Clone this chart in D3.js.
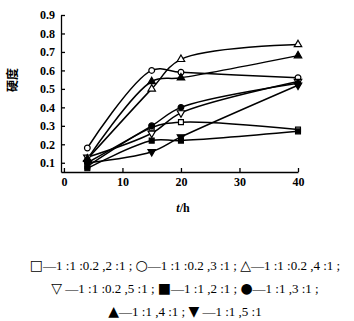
<!DOCTYPE html>
<html>
<head>
<meta charset="utf-8">
<script src="https://cdn.jsdelivr.net/npm/d3@7"></script>
<style>
  body { margin: 0; background: #fff; }
  svg { display: block; }
  .tick text { font-family: "Liberation Serif", serif; font-weight: bold; font-size: 12px; fill: #000; }
  .tick line, .domain { stroke: #000; stroke-width: 1.3; }
  .legend { font-family: "Liberation Serif", serif; font-size: 13px; fill: #000; }
  .sym { font-family: "DejaVu Sans", sans-serif; font-size: 14px; }
</style>
</head>
<body>
<svg width="354" height="321"></svg>
<script>
// sampling times (h)
const times = [4, 15, 20, 40];

// hardness values per formulation
const sqOpen   = [0.08, 0.29, 0.32, 0.28]; // □ 1:1:0.2,2:1
const ciOpen   = [0.18, 0.60, 0.59, 0.56]; // ○ 1:1:0.2,3:1
const trOpen   = [0.12, 0.50, 0.66, 0.74]; // △ 1:1:0.2,4:1
const itOpen   = [0.13, 0.26, 0.37, 0.54]; // ▽ 1:1:0.2,5:1
const sqFill   = [0.07, 0.22, 0.22, 0.27]; // ■ 1:1,2:1
const ciFill   = [0.10, 0.30, 0.40, 0.53]; // ● 1:1,3:1
const trFill   = [0.12, 0.54, 0.56, 0.68]; // ▲ 1:1,4:1
const itFill   = [0.10, 0.16, 0.24, 0.52]; // ▼ 1:1,5:1

const xTicks = [0, 10, 20, 30, 40];
const yTicks = [0.1, 0.2, 0.3, 0.4, 0.5, 0.6, 0.7, 0.8, 0.9];

// legend rows: [symbol, label] pairs
const legendRows = [
  [["□", "—1 :1 :0.2 ,2 :1 ; "], ["○", "—1 :1 :0.2 ,3 :1 ; "], ["△", "—1 :1 :0.2 ,4 :1 ;"]],
  [["▽", " —1 :1 :0.2 ,5 :1 ; "], ["■", "—1 :1 ,2 :1 ; "], ["●", "—1 :1 ,3 :1 ;"]],
  [["▲", "—1 :1 ,4 :1 ; "], ["▼", " —1 :1 ,5 :1"]]
];

const series = [
  { vals: sqOpen, shape: d3.symbolSquare, fill: "#fff" },
  { vals: ciOpen, shape: d3.symbolCircle, fill: "#fff" },
  { vals: trOpen, shape: d3.symbolTriangle, fill: "#fff" },
  { vals: itOpen, shape: d3.symbolTriangle, fill: "#fff", flip: true },
  { vals: sqFill, shape: d3.symbolSquare, fill: "#000" },
  { vals: ciFill, shape: d3.symbolCircle, fill: "#000" },
  { vals: trFill, shape: d3.symbolTriangle, fill: "#000" },
  { vals: itFill, shape: d3.symbolTriangle, fill: "#000", flip: true }
];

const svg = d3.select("svg");

const x = d3.scaleLinear().domain([-0.5, 40]).range([61, 298]);
const y = d3.scaleLinear().domain([0.05, 0.9]).range([172, 15]);

// axes, ticks point inward
svg.append("g")
  .attr("transform", "translate(0,172)")
  .call(d3.axisBottom(x).tickValues(xTicks).tickSizeInner(-4).tickSizeOuter(0).tickPadding(4))
  .call(g => g.selectAll(".tick text").attr("dy", "0.8em"));

svg.append("g")
  .attr("transform", "translate(61,0)")
  .call(d3.axisLeft(y).tickValues(yTicks).tickSizeInner(-4).tickSizeOuter(0).tickPadding(6)
    .tickFormat(d3.format(".1f")));

// axis titles
svg.append("text")
  .attr("transform", "translate(17,80) rotate(-90)")
  .attr("text-anchor", "middle")
  .attr("font-family", "Noto Sans CJK SC")
  .attr("font-size", 12)
  .attr("font-weight", "bold")
  .text("硬度");

svg.append("text")
  .attr("x", 183).attr("y", 212)
  .attr("text-anchor", "middle")
  .attr("font-family", "Liberation Serif")
  .attr("font-size", 12)
  .attr("font-weight", "bold")
  .html('<tspan font-style="italic">t</tspan>/h');

// curves
const line = d3.line()
  .x((d, i) => x(times[i]))
  .y(d => y(d))
  .curve(d3.curveCatmullRom.alpha(0.5));

const plot = svg.append("g");
series.forEach(s => {
  plot.append("path")
    .attr("d", line(s.vals))
    .attr("fill", "none")
    .attr("stroke", "#000")
    .attr("stroke-width", 1.5);
});

series.forEach(s => {
  const sym = d3.symbol().type(s.shape).size(s.shape === d3.symbolCircle ? 26 : 24);
  plot.selectAll(null)
    .data(s.vals)
    .enter()
    .append("path")
    .attr("d", sym)
    .attr("transform", (d, i) => `translate(${x(times[i])},${y(d)})` + (s.flip ? " rotate(180)" : ""))
    .attr("fill", s.fill)
    .attr("stroke", "#000")
    .attr("stroke-width", 1.2);
});

// legend
const rows = svg.selectAll(".legend")
  .data(legendRows)
  .enter()
  .append("text")
  .attr("class", "legend")
  .attr("x", 185)
  .attr("y", (d, i) => 270 + i * 23)
  .attr("text-anchor", "middle");

rows.each(function(row) {
  const t = d3.select(this);
  row.forEach(([s, label]) => {
    t.append("tspan").attr("class", "sym").text(s);
    t.append("tspan").text(label);
  });
});
</script>
</body>
</html>
